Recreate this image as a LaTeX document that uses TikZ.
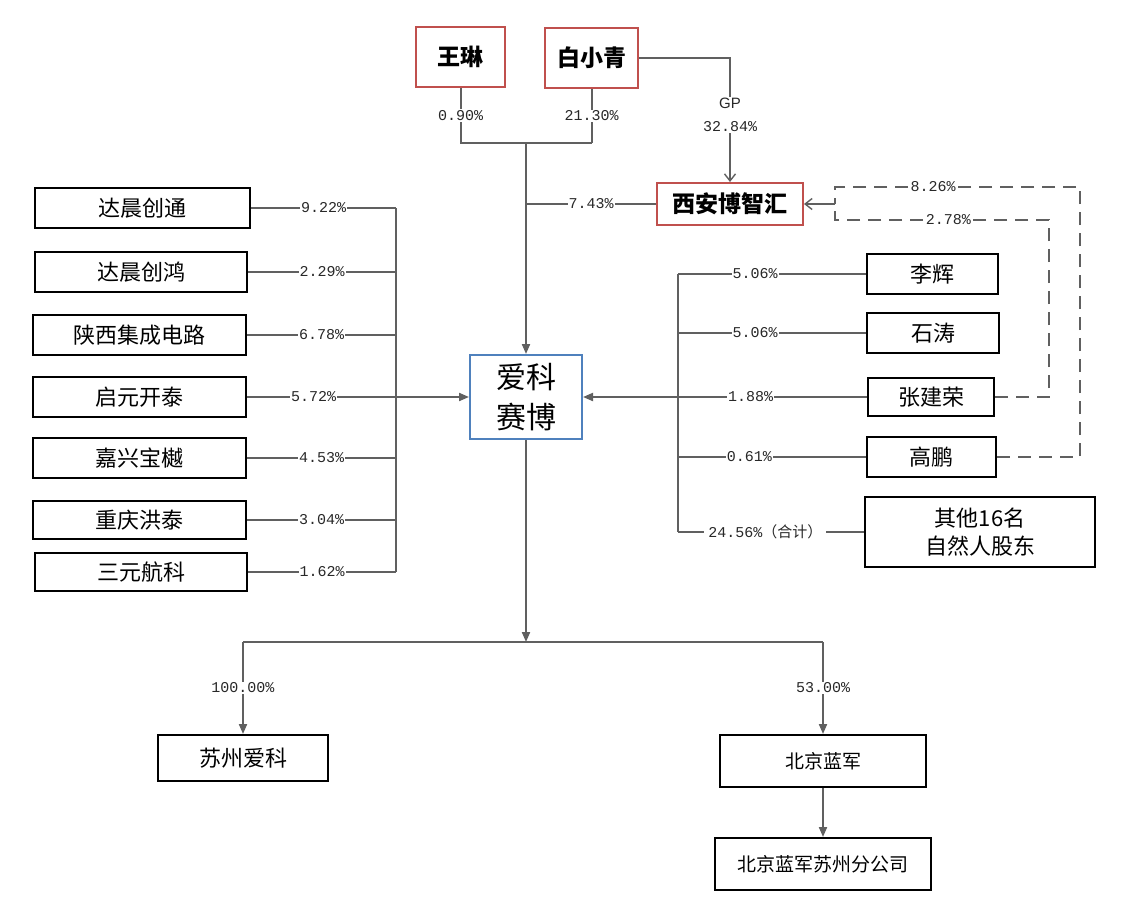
\documentclass[tikz,border=0pt]{standalone}
\usepackage{fontspec}
\setmainfont{Liberation Sans}
\newfontfamily\cjk{Noto Sans CJK SC}
\newfontfamily\pctfont{Liberation Mono}
\usetikzlibrary{arrows.meta}
\definecolor{redb}{RGB}{192,80,77}
\definecolor{blueb}{RGB}{79,129,189}
\definecolor{ln}{RGB}{96,96,96}
\definecolor{txt}{RGB}{40,40,40}
\begin{document}
\begin{tikzpicture}[x=1pt,y=-1pt,
  box/.style={draw=black, line width=2pt, inner sep=0pt, fill=white, text=black,
    font=\cjk\fontsize{22}{28}\selectfont},
  redbox/.style={box, draw=redb, font=\cjk\bfseries\fontsize{23}{28}\selectfont},
  bluebox/.style={box, draw=blueb, font=\cjk\fontsize{30}{40}\selectfont, align=center},
  smallbox/.style={box, font=\cjk\fontsize{19}{24}\selectfont},
  conn/.style={draw=ln, line width=2pt},
  dconn/.style={conn, dash pattern=on 13pt off 8pt},
  tip/.style={-{Triangle[length=10pt,width=8pt]}},
  otip/.style={-{Straight Barb[length=7pt,width=11pt,line width=1.4pt]}},
  pct/.style={fill=white, inner sep=1pt, text=txt, font=\pctfont\fontsize{15}{17}\selectfont}
]
\fill[white] (0,0) rectangle (1124,916);
\useasboundingbox (0,0) rectangle (1124,916);

% top
\node[redbox, minimum width=89pt, minimum height=60pt] (wl) at (460.5,57) {王琳};
\node[redbox, minimum width=93pt, minimum height=60pt] (bxq) at (591.5,58) {白小青};
\node[redbox, minimum width=146pt, minimum height=42pt] (xa) at (730,204) {西安博智汇};
\node[bluebox, minimum width=112pt, minimum height=84pt] (ak) at (526,397) {爱科\\赛博};

% left
\node[box, minimum width=215pt, minimum height=40pt] (L1) at (142.5,208) {达晨创通};
\node[box, minimum width=212pt, minimum height=40pt] (L2) at (141,272) {达晨创鸿};
\node[box, minimum width=213pt, minimum height=40pt] (L3) at (139.5,335) {陕西集成电路};
\node[box, minimum width=213pt, minimum height=40pt] (L4) at (139.5,397) {启元开泰};
\node[box, minimum width=213pt, minimum height=40pt] (L5) at (139.5,458) {嘉兴宝樾};
\node[box, minimum width=213pt, minimum height=38pt] (L6) at (139.5,520) {重庆洪泰};
\node[box, minimum width=212pt, minimum height=38pt] (L7) at (141,572) {三元航科};

% right
\node[box, minimum width=131pt, minimum height=40pt] (R1) at (932.5,274) {李辉};
\node[box, minimum width=132pt, minimum height=40pt] (R2) at (933,333) {石涛};
\node[box, minimum width=126pt, minimum height=38pt] (R3) at (931,397) {张建荣};
\node[box, minimum width=129pt, minimum height=40pt] (R4) at (931.5,457) {高鹏};
\node[box, minimum width=230pt, minimum height=70pt, align=center] (R5) at (980,532) {其他16名\\自然人股东};

% bottom
\node[box, minimum width=170pt, minimum height=46pt] (sz) at (243,758) {苏州爱科};
\node[smallbox, minimum width=206pt, minimum height=52pt] (bj) at (823,761) {北京蓝军};
\node[smallbox, minimum width=216pt, minimum height=52pt] (bjs) at (823,864) {北京蓝军苏州分公司};

% coordinates
\coordinate (t1) at (460.5,143);
\coordinate (t2) at (591.5,143);
\coordinate (tm) at (526,143);
\coordinate (gpc) at (730,58);
\coordinate (x7) at (526,204);
\coordinate (lb1) at (396,208);
\coordinate (lb7) at (396,572);
\coordinate (rb1) at (678,274);
\coordinate (rb5) at (678,532);
\coordinate (d1) at (1080,457);
\coordinate (d2) at (1080,187);
\coordinate (d3) at (835,187);
\coordinate (d4) at (835,220);
\coordinate (d5) at (1049,220);
\coordinate (d6) at (1049,397);
\coordinate (dm) at (835,204);
\coordinate (bt) at (526,642);
\coordinate (bl) at (243,642);
\coordinate (br) at (823,642);

% top connectors
\draw[conn] (wl.south) -- node[pct]{0.90\%} (t1) -- (t2);
\draw[conn] (bxq.south) -- node[pct]{21.30\%} (t2);
\draw[conn, tip] (tm) -- (ak.north);
\draw[conn, otip] (bxq.east) -- (gpc) -- (xa.north);
\node[pct, align=center, font=\pctfont\fontsize{15}{23}\selectfont] at (730,115) {{\fontspec{Liberation Sans}GP}\\32.84\%};
\draw[conn] (xa.west) -- node[pct]{7.43\%} (x7);

% left connectors
\draw[conn] (L1.east) -- node[pct]{9.22\%} (L1.east -| lb1);
\draw[conn] (L2.east) -- node[pct]{2.29\%} (L2.east -| lb1);
\draw[conn] (L3.east) -- node[pct]{6.78\%} (L3.east -| lb1);
\draw[conn] (L5.east) -- node[pct]{4.53\%} (L5.east -| lb1);
\draw[conn] (L6.east) -- node[pct]{3.04\%} (L6.east -| lb1);
\draw[conn] (L7.east) -- node[pct]{1.62\%} (L7.east -| lb1);
\draw[conn] (lb1) -- (lb7);
\draw[conn, tip] (L4.east) -- node[pct, pos=0.3]{5.72\%} (ak.west);

% right connectors
\draw[conn] (R1.west) -- node[pct, pos=0.59]{5.06\%} (R1.west -| rb1);
\draw[conn] (R2.west) -- node[pct, pos=0.59]{5.06\%} (R2.west -| rb1);
\draw[conn] (R4.west) -- node[pct, pos=0.62]{0.61\%} (R4.west -| rb1);
\draw[conn] (R5.west) -- node[pct, pos=0.53, inner xsep=4pt]{24.56\%{\cjk\fontsize{15}{17}\selectfont （合计）}} (R5.west -| rb1);
\draw[conn] (rb1) -- (rb5);
\draw[conn, tip] (R3.west) -- node[pct, pos=0.41]{1.88\%} (ak.east);

% dashed to 西安博智汇
\draw[dconn] (R4.east) -- (d1) -- (d2) -- node[pct, pos=0.6]{8.26\%} (d3) -- (dm);
\draw[dconn] (R3.east) -- (d6) -- (d5) -- node[pct, pos=0.47]{2.78\%} (d4) -- (dm);
\draw[conn, otip] (dm) -- (xa.east);

% bottom connectors
\draw[conn, tip] (ak.south) -- (bt);
\draw[conn] (bl) -- (br);
\draw[conn, tip] (bl) -- node[pct]{100.00\%} (sz.north);
\draw[conn, tip] (br) -- node[pct]{53.00\%} (bj.north);
\draw[conn, tip] (bj.south) -- (bjs.north);
\end{tikzpicture}
\end{document}
